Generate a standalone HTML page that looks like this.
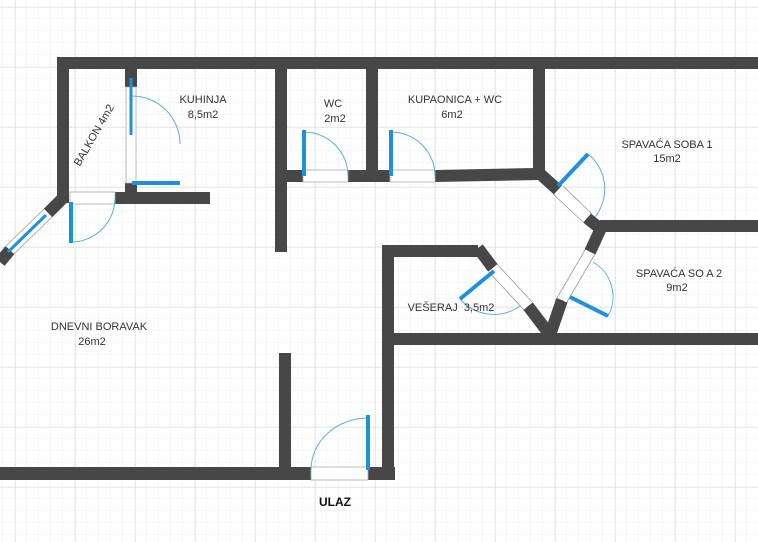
<!DOCTYPE html>
<html><head><meta charset="utf-8"><style>
html,body{margin:0;padding:0;background:#fff;}
svg{display:block;}
text{font-family:"Liberation Sans",sans-serif;font-size:11px;fill:#333;}
</style></head><body>
<svg width="758" height="542" viewBox="0 0 758 542" xmlns="http://www.w3.org/2000/svg">
<defs>
<pattern id="minor" width="12" height="12" patternUnits="userSpaceOnUse" x="3" y="7">
<path d="M12 0V12M0 12H12" stroke="#ececec" stroke-width="1" fill="none"/>
</pattern>
<pattern id="major" width="60" height="60" patternUnits="userSpaceOnUse" x="15" y="7">
<path d="M0 0V60M0 0H60" stroke="#d6d6d6" stroke-width="1" fill="none"/>
</pattern>
</defs>
<rect width="758" height="542" fill="#fff"/>
<rect width="758" height="542" fill="url(#minor)"/>
<rect width="758" height="542" fill="url(#major)"/>

<g fill="#474747">
<!-- top wall -->
<rect x="57" y="57" width="701" height="12"/>
<!-- balkon left wall -->
<rect x="57" y="57" width="12" height="146"/>
<!-- kitchen divider stubs -->
<rect x="125" y="69" width="12" height="18"/>
<rect x="125" y="183" width="12" height="10"/>
<!-- wall below kitchen -->
<rect x="115" y="192" width="95" height="12"/>
<!-- kitchen / WC wall -->
<rect x="275" y="57" width="12" height="195"/>
<!-- WC bottom -->
<rect x="287" y="170" width="16" height="12"/>
<rect x="348" y="170" width="30" height="12"/>
<!-- WC / kupaonica -->
<rect x="366" y="57" width="12" height="125"/>
<!-- kupaonica bottom -->
<rect x="378" y="170" width="12" height="12"/>
<polygon points="435,170 535,168 540,180 435,182"/>
<!-- kupaonica right -->
<rect x="533" y="57" width="12" height="120"/>
<!-- bedroom wall right -->
<rect x="600" y="220" width="158" height="12"/>
<!-- vešeraj -->
<rect x="382" y="245" width="96" height="12"/>
<rect x="382" y="245" width="12" height="235"/>
<rect x="394" y="333" width="364" height="12"/>
<!-- bottom -->
<rect x="0" y="467" width="311" height="13"/>
<rect x="368" y="467" width="27" height="13"/>
<rect x="279" y="353" width="12" height="127"/>
</g>
<!-- diagonals -->
<g stroke="#474747" stroke-width="12" fill="none" stroke-linecap="butt">
<line x1="538" y1="172" x2="558" y2="190"/>
<line x1="587" y1="218" x2="602" y2="230"/>
<line x1="601" y1="228" x2="590" y2="252"/>
<line x1="562" y1="300" x2="550" y2="335"/>
<line x1="478" y1="248" x2="493" y2="268"/>
<line x1="528" y1="306" x2="550" y2="335"/>
<line x1="63" y1="198" x2="48" y2="213"/>
<line x1="10" y1="250" x2="0" y2="262"/>
</g>
<!-- white openings in diagonals -->
<g stroke="#fff" stroke-width="10" fill="none">
<line x1="558" y1="190" x2="587" y2="218"/>
<line x1="590" y1="252" x2="562" y2="300"/>
<line x1="493" y1="268" x2="528" y2="306"/>
<line x1="48" y1="213" x2="10" y2="250"/>
</g>
<g stroke="#999" stroke-width="0.8" fill="none">
<line x1="553" y1="194" x2="583" y2="222"/><line x1="563" y1="186" x2="592" y2="214"/>
<line x1="585" y1="250" x2="557" y2="298"/><line x1="595" y1="254" x2="567" y2="302"/>
<line x1="489" y1="272" x2="524" y2="310"/><line x1="497" y1="264" x2="532" y2="302"/>
<line x1="44" y1="209" x2="6" y2="246"/><line x1="52" y1="217" x2="14" y2="254"/>
</g>
<line x1="46" y1="215" x2="8" y2="252" stroke="#1e90e0" stroke-width="3"/>

<!-- window in kitchen divider -->
<rect x="126" y="87" width="10" height="96" fill="#fff" stroke="#aaa" stroke-width="0.8"/>
<line x1="131" y1="78" x2="131" y2="135" stroke="#1e90e0" stroke-width="3"/>

<!-- door openings white -->
<g fill="#fff" stroke="#aaa" stroke-width="0.8">
<rect x="70" y="192" width="45" height="12"/>
<rect x="303" y="170" width="45" height="12"/>
<rect x="390" y="170" width="45" height="12"/>
<rect x="311" y="467" width="57" height="13"/>
</g>

<!-- arcs -->
<g stroke="#5aaee0" stroke-width="1" fill="none">
<path d="M132 96 A48 48 0 0 1 180 144"/>
<path d="M71 242 A44 44 0 0 0 115 198"/>
<path d="M304 132 A44 44 0 0 1 348 176"/>
<path d="M391 132 A44 44 0 0 1 435 176"/>
<path d="M368 418 A57 52 0 0 0 311 470"/>
<path d="M588 154 A45 45 0 0 1 595 217"/>
<path d="M593 262 A40 40 0 0 1 608 316"/>
<path d="M460 299 A45 45 0 0 0 520 306"/>
</g>
<!-- door leaves -->
<g stroke="#1e90e0" stroke-width="4" fill="none">
<line x1="132" y1="183" x2="180" y2="183"/>
<line x1="71" y1="202" x2="71" y2="243"/>
<line x1="304" y1="130" x2="304" y2="176"/>
<line x1="391" y1="130" x2="391" y2="176"/>
<line x1="368" y1="415" x2="368" y2="470"/>
<line x1="558" y1="186" x2="588" y2="154"/>
<line x1="570" y1="297" x2="608" y2="316"/>
<line x1="460" y1="299" x2="494" y2="271"/>
</g>

<!-- labels -->
<g text-anchor="middle">
<text x="203" y="103">KUHINJA</text>
<text x="203" y="118">8,5m2</text>
<text x="333" y="107">WC</text>
<text x="335" y="122">2m2</text>
<text x="455" y="103">KUPAONICA + WC</text>
<text x="452" y="118">6m2</text>
<text x="667" y="148">SPAVAĆA SOBA 1</text>
<text x="667" y="162">15m2</text>
<text x="679" y="277">SPAVAĆA SO A 2</text>
<text x="677" y="291">9m2</text>
<text x="451" y="311" xml:space="preserve">VEŠERAJ  3,5m2</text>
<text x="99" y="330">DNEVNI BORAVAK</text>
<text x="92" y="345">26m2</text>
<text x="335" y="506" style="font-weight:bold;fill:#111;font-size:12px">ULAZ</text>
<text x="97" y="137" transform="rotate(-60 97 137)">BALKON 4m2</text>
</g>
</svg>
</body></html>
